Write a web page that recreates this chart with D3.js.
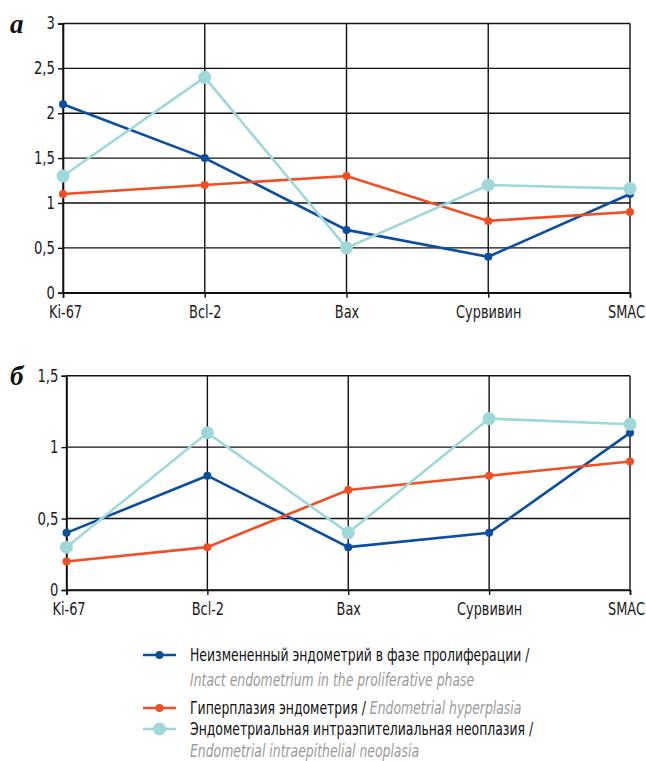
<!DOCTYPE html>
<html><head><meta charset="utf-8">
<script src="https://cdn.jsdelivr.net/npm/d3@7"></script>
<style>
body{margin:0;background:#fff;}
svg{display:block;}
text{font-family:"DejaVu Sans",sans-serif;}
.tick text{font-size:17px;fill:#1a1a1a;}
</style></head>
<body>
<svg id="c" width="646" height="761"></svg>
<script>
const categories = ["Ki-67","Bcl-2","Bax","Сурвивин","SMAC"];
const seriesNames = [
  ["Неизмененный эндометрий в фазе пролиферации /", "Intact endometrium in the proliferative phase"],
  ["Гиперплазия эндометрия / ", "Endometrial hyperplasia"],
  ["Эндометриальная интраэпителиальная неоплазия /", "Endometrial intraepithelial neoplasia"]
];
const colors = ["#0a4f9f","#f04e23","#9fd8d8"];
const radii = [4, 4, 6.5];

const aIntact = [2.1, 1.5, 0.7, 0.4, 1.1];
const aHyper  = [1.1, 1.2, 1.3, 0.8, 0.9];
const aNeo    = [1.3, 2.4, 0.5, 1.2, 1.16];
const aTicks  = [0, 0.5, 1, 1.5, 2, 2.5, 3];

const bIntact = [0.4, 0.8, 0.3, 0.4, 1.1];
const bHyper  = [0.2, 0.3, 0.7, 0.8, 0.9];
const bNeo    = [0.3, 1.1, 0.4, 1.2, 1.16];
const bTicks  = [0, 0.5, 1, 1.5];

const svg = d3.select("#c");
const fmt = d => String(d).replace(".", ",");
function condense(sel, f){
  sel.each(function(){
    const w = this.getComputedTextLength();
    this.setAttribute("textLength", (w*f).toFixed(1));
    this.setAttribute("lengthAdjust","spacingAndGlyphs");
  });
}

function panel(cfg){
  const g = svg.append("g");
  const x = d3.scalePoint().domain(categories).range([cfg.x0, cfg.x1]);
  const y = d3.scaleLinear().domain([0, d3.max(cfg.ticks)]).range([cfg.yb, cfg.yt]);
  g.append("g").selectAll("line").data(cfg.ticks).join("line")
    .attr("x1", cfg.x0).attr("x2", cfg.x1).attr("y1", d=>y(d)).attr("y2", d=>y(d))
    .attr("stroke","#111").attr("stroke-width",1.4);
  g.append("g").selectAll("line").data(categories).join("line")
    .attr("x1", d=>x(d)).attr("x2", d=>x(d)).attr("y1", y.range()[0]).attr("y2", y.range()[1])
    .attr("stroke","#111").attr("stroke-width",1.4);
  const ya = g.append("g").attr("transform",`translate(${cfg.x0},0)`)
    .call(d3.axisLeft(y).tickValues(cfg.ticks).tickFormat(fmt).tickSize(5).tickPadding(3));
  ya.select(".domain").attr("stroke","#111").attr("stroke-width",1.6);
  ya.selectAll(".tick line").attr("stroke","#111").attr("stroke-width",1.4);
  condense(ya.selectAll(".tick text"), 0.78);
  const xa = g.append("g").attr("transform",`translate(0,${cfg.yb})`)
    .call(d3.axisBottom(x).tickSize(5).tickPadding(8));
  xa.select(".domain").attr("stroke","#111").attr("stroke-width",1.6);
  xa.selectAll(".tick line").attr("stroke","#111").attr("stroke-width",1.4);
  condense(xa.selectAll(".tick text"), 0.76);
  xa.selectAll(".tick text").attr("dx", (d,i)=> i===categories.length-1 ? -4 : (i===0 ? 2 : 0));
  g.append("text").attr("x", 10).attr("y", cfg.yt + 9)
    .attr("style","font-family:'Liberation Serif',serif")
    .attr("font-weight","bold").attr("font-style","italic")
    .attr("font-size", 27).attr("fill","#111").text(cfg.label);
  const line = d3.line().x((d,i)=>x(categories[i])).y(d=>y(d));
  cfg.series.forEach((s, k) => {
    g.append("path").datum(s).attr("d", line).attr("fill","none")
      .attr("stroke", colors[k]).attr("stroke-width", 2.6);
  });
  cfg.series.forEach((s, k) => {
    g.append("g").selectAll("circle").data(s).join("circle")
      .attr("cx",(d,i)=>x(categories[i])).attr("cy", d=>y(d)).attr("r", radii[k]).attr("fill", colors[k]);
  });
}

panel({x0:63, x1:630, yt:23.5, yb:292.7, ticks:aTicks, label:"a", series:[aIntact,aHyper,aNeo]});
panel({x0:66.5, x1:630, yt:375.7, yb:590, ticks:bTicks, label:"б", series:[bIntact,bHyper,bNeo]});

const lg = svg.append("g");
const rows = [
  {ly:655, k:0, lines:[[seriesNames[0][0], null],[null, seriesNames[0][1]]]},
  {ly:708, k:1, lines:[[seriesNames[1][0], seriesNames[1][1]]]},
  {ly:729, k:2, lines:[[seriesNames[2][0], null],[null, seriesNames[2][1]]]}
];
const ys = [[661, 686],[714],[735, 757]];
rows.forEach((r, idx) => {
  lg.append("line").attr("x1",143).attr("x2",176).attr("y1",r.ly).attr("y2",r.ly)
    .attr("stroke",colors[r.k]).attr("stroke-width",2.6);
  lg.append("circle").attr("cx",159.5).attr("cy",r.ly).attr("r",radii[r.k]).attr("fill",colors[r.k]);
  r.lines.forEach((ln, j) => {
    const t = lg.append("text").attr("x",190).attr("y",ys[idx][j]).attr("font-size",17);
    if (ln[0]) t.append("tspan").attr("fill","#111").text(ln[0]);
    if (ln[1]) t.append("tspan").attr("fill","#9a9a9a").attr("font-style","italic").text(ln[1]);
    condense(t, 0.73);
  });
});
</script>
</body></html>
